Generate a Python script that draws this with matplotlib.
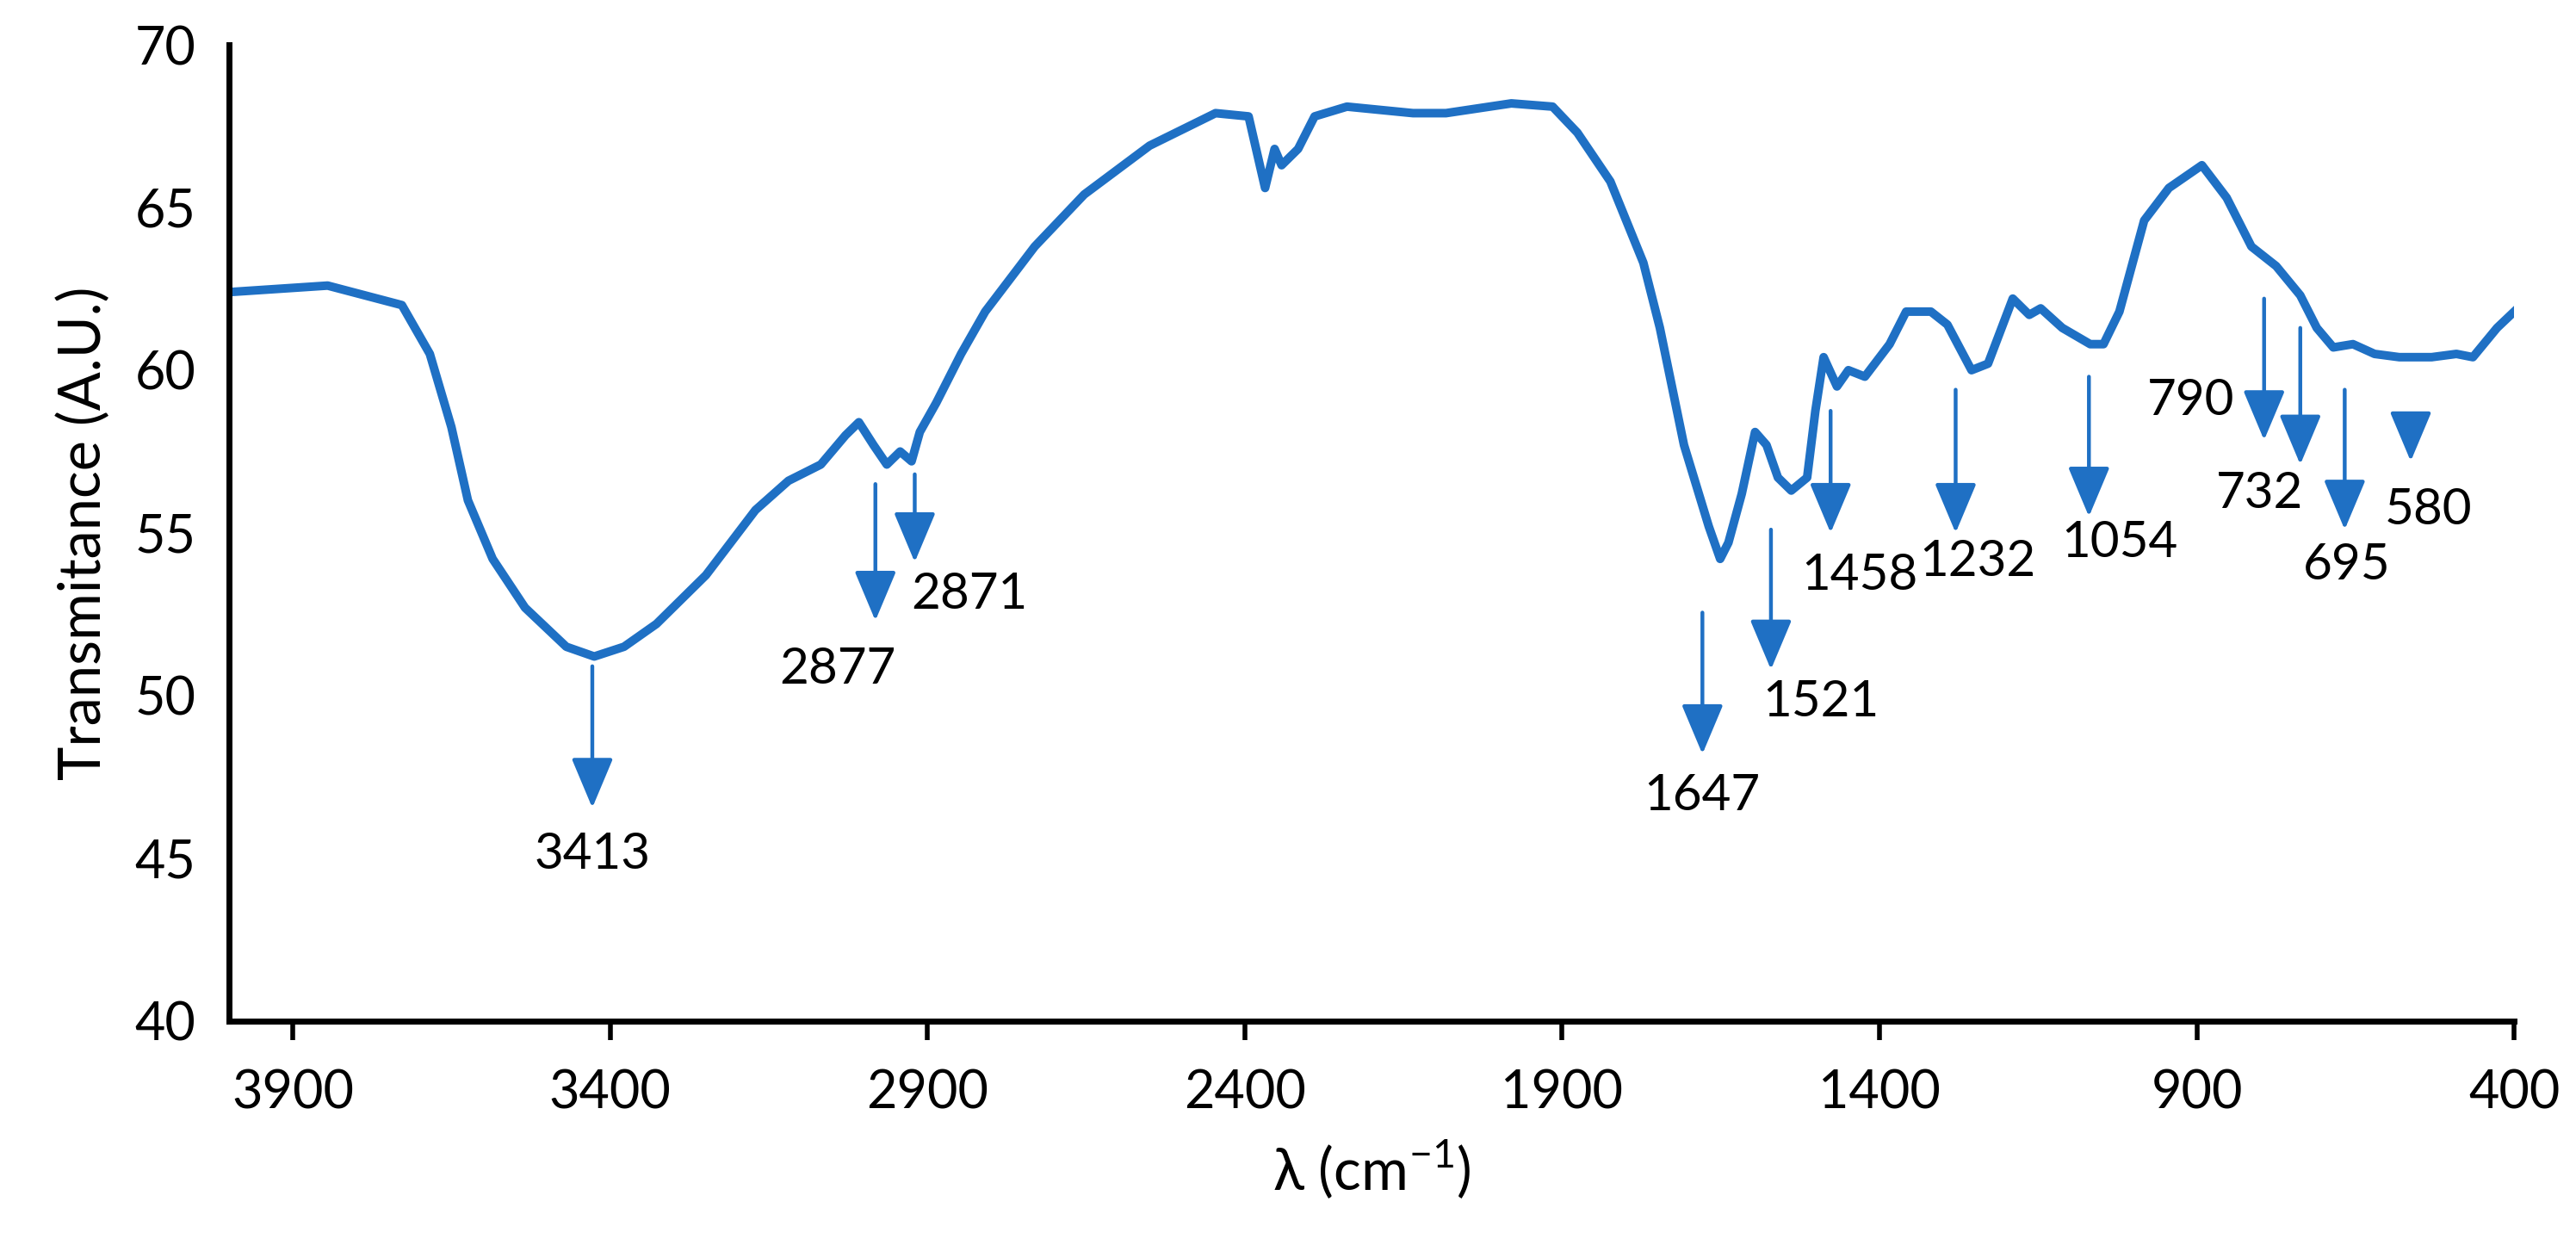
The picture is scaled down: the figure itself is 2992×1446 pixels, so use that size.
import matplotlib
matplotlib.use("Agg")
import matplotlib.pyplot as plt

plt.rcParams["font.family"] = ["Lato", "DejaVu Sans"]
plt.rcParams["mathtext.fontset"] = "custom"
plt.rcParams["mathtext.rm"] = "Lato"

# ==========================================
# Data
# ==========================================

wavenumber = [
    4000, 3845, 3728, 3684, 3650, 3624, 3585, 3534, 3469, 3425, 3378, 3327,
    3249, 3171, 3119, 3068, 3029, 3008, 2985, 2964, 2943, 2925, 2912, 2886,
    2847, 2809, 2731, 2653, 2550, 2446, 2394, 2368, 2353, 2342, 2316, 2290,
    2239, 2135, 2083, 1980, 1915, 1876, 1824, 1772, 1746, 1708, 1669, 1651,
    1638, 1617, 1596, 1578, 1560, 1539, 1514, 1501, 1488, 1467, 1449, 1423,
    1384, 1358, 1319, 1293, 1255, 1229, 1190, 1164, 1146, 1112, 1068, 1047,
    1022, 983, 944, 892, 853, 814, 775, 737, 711, 685, 654, 620, 581, 530,
    491, 465, 427, 400,
]
transmittance = [
    62.4, 62.6, 62.0, 60.5, 58.25, 56.0, 54.2, 52.7, 51.5, 51.2, 51.5, 52.2,
    53.7, 55.7, 56.6, 57.1, 58.0, 58.4, 57.7, 57.1, 57.5, 57.2, 58.1, 59.0,
    60.5, 61.8, 63.8, 65.4, 66.9, 67.9, 67.8, 65.6, 66.8, 66.3, 66.8, 67.8,
    68.1, 67.9, 67.9, 68.2, 68.1, 67.3, 65.8, 63.3, 61.3, 57.7, 55.2, 54.2,
    54.7, 56.2, 58.1, 57.7, 56.7, 56.3, 56.7, 58.75, 60.4, 59.5, 60.0, 59.8,
    60.8, 61.8, 61.8, 61.4, 60.0, 60.2, 62.2, 61.7, 61.9, 61.3, 60.8, 60.8,
    61.8, 64.6, 65.6, 66.3, 65.3, 63.8, 63.2, 62.3, 61.3, 60.7, 60.8, 60.5,
    60.4, 60.4, 60.5, 60.4, 61.3, 61.8,
]

# peak labels: arrow x, arrow top, arrow tip, label x, label y
peak_labels = ["3413", "2877", "2871", "1647", "1521", "1458",
               "1232", "1054", "790", "732", "695", "580"]
arrow_x = [3428, 2982, 2920, 1679, 1571, 1477, 1280, 1070, 794, 737, 667, 563]
arrow_top = [50.9, 56.5, 56.8, 52.55, 55.1, 58.75, 59.4, 59.8, 62.2, 61.3, 59.4, 58.5]
arrow_tip = [46.55, 52.3, 54.1, 48.2, 50.8, 55.0, 55.0, 55.5, 57.85, 57.1, 55.1, 57.2]
label_x = [3428, 3042, 2834, 1679, 1493, 1432, 1245, 1022, 910, 801, 664, 535]
label_y = [45.1, 50.8, 53.1, 46.9, 49.8, 53.7, 54.1, 54.7, 59.06, 56.2, 54.0, 55.7]

x_ticks = [3900, 3400, 2900, 2400, 1900, 1400, 900, 400]
y_ticks = [40, 45, 50, 55, 60, 65, 70]

BLUE = "#1f70c4"

# ==========================================
# Plot
# ==========================================

fig = plt.figure(figsize=(14.96, 7.23), dpi=200)
ax = fig.add_axes([0.089, 0.18, 0.887, 0.784])

ax.plot(wavenumber, transmittance, color=BLUE, lw=3.6,
        solid_joinstyle="round")

for lab, ax_x, top, tip, lx, ly in zip(peak_labels, arrow_x, arrow_top,
                                       arrow_tip, label_x, label_y):
    ax.annotate(
        "", xy=(ax_x, tip), xytext=(ax_x, top),
        arrowprops=dict(arrowstyle="-|>,head_length=1.0,head_width=0.42",
                        color=BLUE, lw=1.6, mutation_scale=18,
                        shrinkA=0, shrinkB=0),
    )
    ax.text(lx, ly, lab, fontsize=21, ha="center", va="center")

ax.set_xlim(4000, 400)
ax.set_ylim(40, 70)
ax.set_xticks(x_ticks)
ax.set_yticks(y_ticks)
ax.tick_params(axis="x", direction="out", length=8, width=2, labelsize=22, pad=12)
ax.tick_params(axis="y", length=0, labelsize=22, pad=14)

for side in ["top", "right"]:
    ax.spines[side].set_visible(False)
for side in ["left", "bottom"]:
    ax.spines[side].set_linewidth(2.5)

ax.set_xlabel("λ (cm$^{-1}$)", fontsize=24, labelpad=8)
ax.set_ylabel("Transmitance (A.U.)", fontsize=24, labelpad=10)

fig.savefig("out.png", dpi=200, facecolor="white")
